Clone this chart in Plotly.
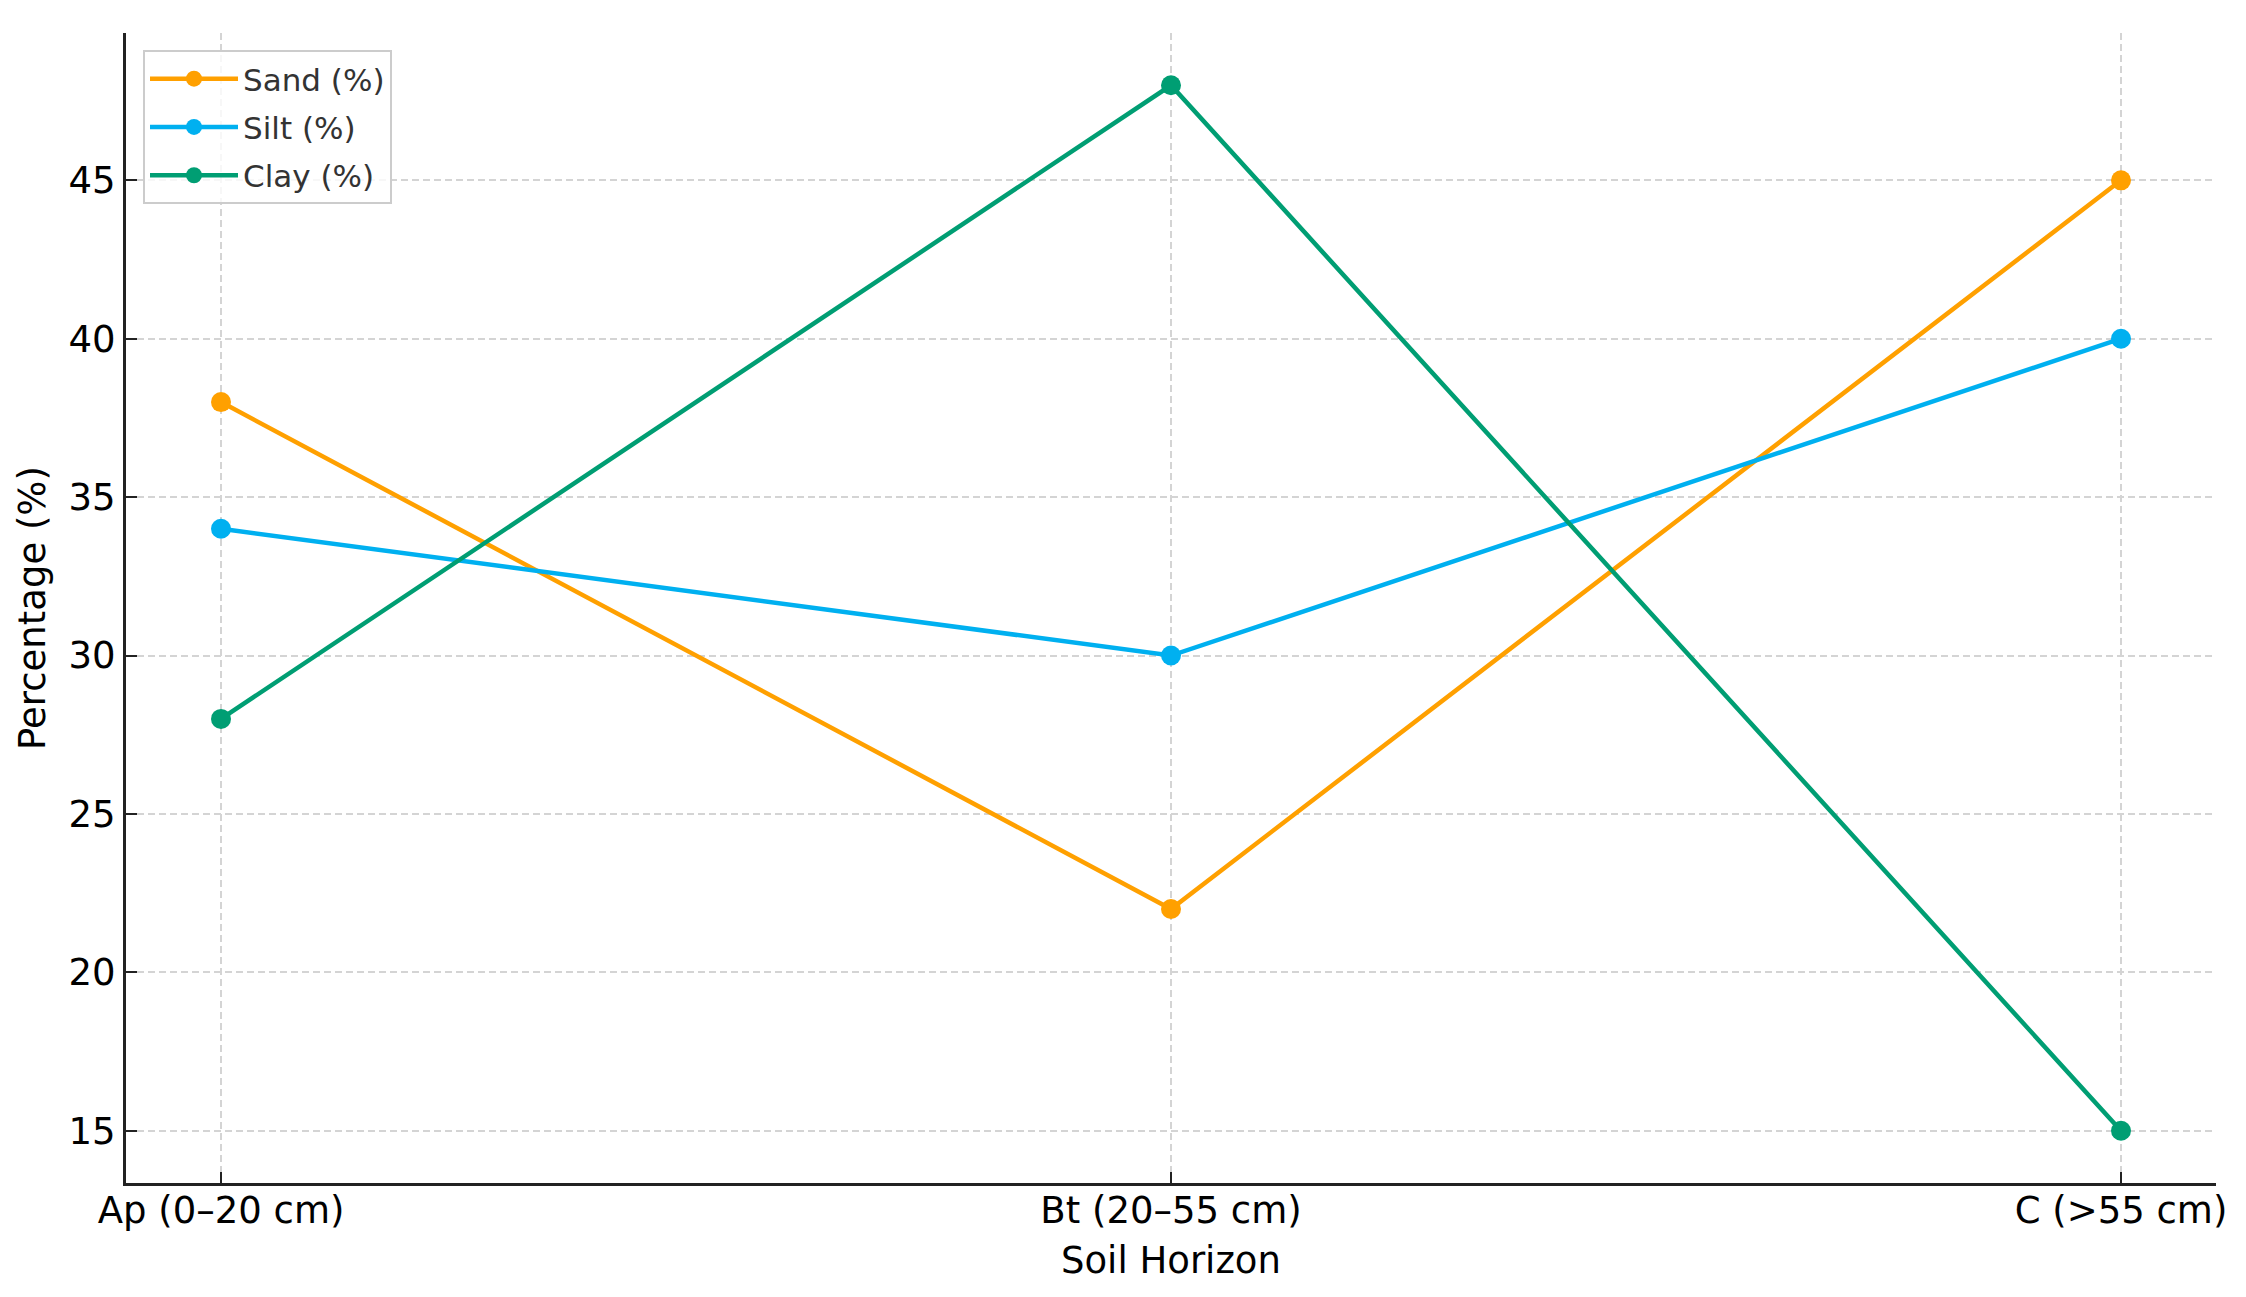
import plotly.graph_objects as go

horizons = ["Ap (0–20 cm)", "Bt (20–55 cm)", "C (>55 cm)"]
sand = [38, 22, 45]
silt = [34, 30, 40]
clay = [28, 48, 15]
y_ticks = [15, 20, 25, 30, 35, 40, 45]

series = [
    ("Sand (%)", sand, "#FFA000"),
    ("Silt (%)", silt, "#00B0F0"),
    ("Clay (%)", clay, "#009E73"),
]

fig = go.Figure()
for i, (name, vals, col) in enumerate(series):
    fig.add_trace(go.Scatter(
        x=horizons, y=vals, name=name, mode="lines+markers",
        legendgroup=f"g{i}",
        line=dict(color=col, width=4.5),
        marker=dict(color=col, size=20),
    ))

FONT = "DejaVu Sans"
W, H = 2246, 1297
OFF = 8  # page body margin
# target plot area in page pixels
PX0, PX1, PY0, PY1 = 126, 2216, 33, 1183
L, R, T, B = PX0 - OFF, W - (PX1 - OFF), PY0 - OFF, H - (PY1 - OFF)
PW, PH = PX1 - PX0, PY1 - PY0


def px(x):
    return (x - PX0) / PW


def py(y):
    return (PY1 - y) / PH


fig.update_layout(
    width=W, height=H,
    margin=dict(l=L, r=R, t=T, b=B),
    paper_bgcolor="white", plot_bgcolor="white",
    font=dict(family=FONT, size=37, color="black"),
    showlegend=True,
    legend=dict(
        x=px(143), y=py(50),
        xanchor="left", yanchor="top",
        bgcolor="rgba(255,255,255,0.8)", bordercolor="#cccccc", borderwidth=2,
        font=dict(family=FONT, size=31, color="#333333"),
        tracegroupgap=5, itemwidth=88,
    ),
    xaxis=dict(
        type="category", categoryorder="array", categoryarray=horizons,
        range=[-0.1, 2.1],
        showgrid=True, gridcolor="#d4d4d4", gridwidth=2, griddash="7px,4px",
        showline=True, linecolor="#222222", linewidth=3,
        ticks="inside", ticklen=11, tickwidth=2, tickcolor="#222222",
        tickfont=dict(family=FONT, size=37, color="black"),
        ticklabelstandoff=-7,
        zeroline=False, mirror=False,
    ),
    yaxis=dict(
        range=[13.35, 49.65], tickvals=y_ticks,
        showgrid=True, gridcolor="#d4d4d4", gridwidth=2, griddash="7px,4px",
        showline=True, linecolor="#222222", linewidth=3,
        ticks="inside", ticklen=11, tickwidth=2, tickcolor="#222222",
        tickfont=dict(family=FONT, size=37, color="black"),
        zeroline=False, mirror=False,
    ),
    annotations=[
        dict(text="Soil Horizon", xref="paper", yref="paper",
             x=0.5, y=py(1260), xanchor="center", yanchor="middle",
             showarrow=False, font=dict(family=FONT, size=37, color="black")),
        dict(text="Percentage (%)", xref="paper", yref="paper",
             x=px(32), y=0.5, xanchor="center", yanchor="middle",
             textangle=-90, showarrow=False,
             font=dict(family=FONT, size=37, color="black")),
    ],
)

fig.write_html("out.html")
